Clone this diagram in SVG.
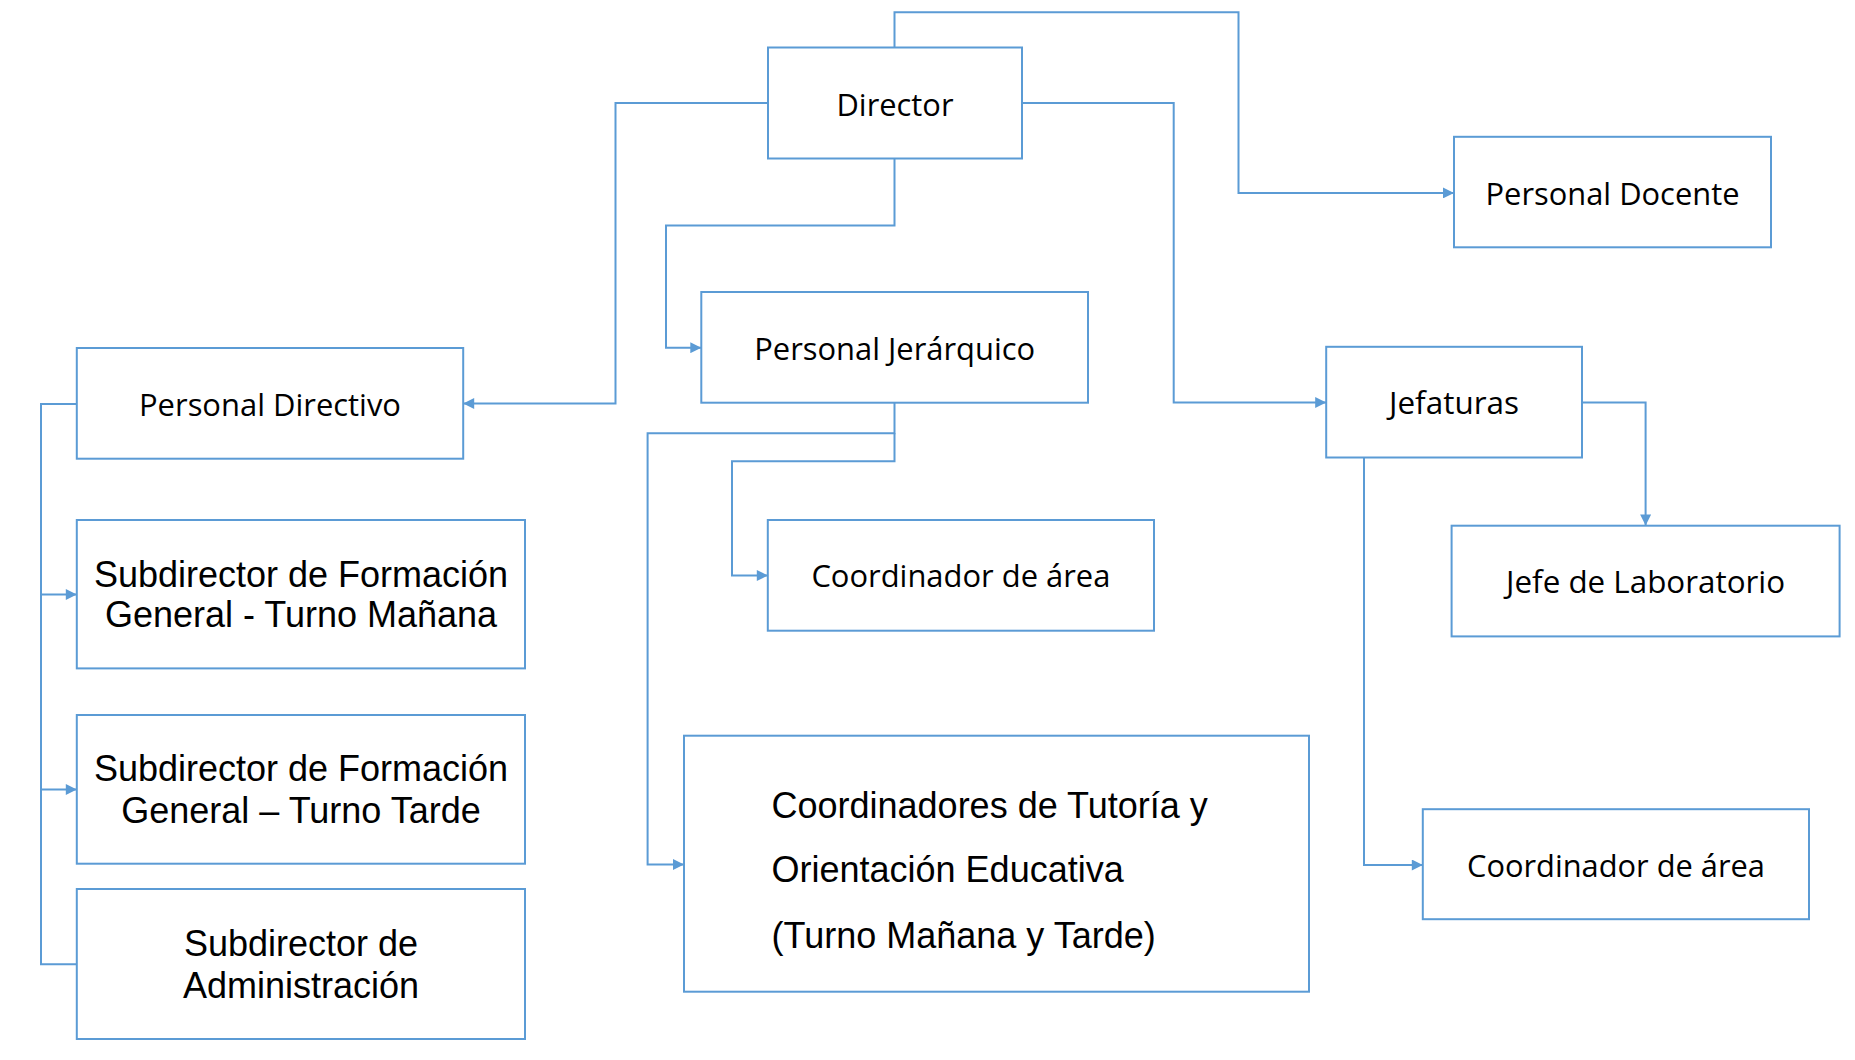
<svg xmlns="http://www.w3.org/2000/svg" width="1855" height="1060" viewBox="0 0 1855 1060">
<style>
.box{fill:#ffffff;stroke:#5b9bd5;stroke-width:2}
.c{fill:none;stroke:#5b9bd5;stroke-width:2}
.a{marker-end:url(#arr)}
.t1{font-family:"Open Sans","Noto Sans",sans-serif;font-size:31px;fill:#000;text-anchor:middle}
.t2{font-family:"Liberation Sans",Arial,sans-serif;font-size:36px;fill:#000;text-anchor:middle}
.t3{font-family:"Liberation Sans",Arial,sans-serif;font-size:36px;fill:#000}
</style>
<defs>
<marker id="arr" viewBox="0 0 10 10" refX="10" refY="5" markerWidth="12" markerHeight="11" markerUnits="userSpaceOnUse" orient="auto">
<path d="M0,0 L10,5 L0,10 z" fill="#5b9bd5"/>
</marker>
</defs>
<rect width="1855" height="1060" fill="#ffffff"/>
<g id="connectors">
<path class="c a" d="M894.5,47.5 V12.3 H1238.5 V192.9 H1454"/>
<path class="c a" d="M768,103 H615.5 V403.5 H463.2"/>
<path class="c a" d="M1022,103 H1173.7 V402.5 H1326.2"/>
<path class="c a" d="M894.5,158.5 V225.5 H666 V347.7 H701.3"/>
<path class="c a" d="M894.5,402.7 V433.3 H647.6 V864.5 H684"/>
<path class="c a" d="M894.5,433.3 V461.3 H732 V575.5 H767.8"/>
<path class="c a" d="M1582,402.5 H1645.6 V525.6"/>
<path class="c a" d="M1364,458 V865 H1422.8"/>
<path class="c" d="M76.8,404 H41 V964.3 H76.8"/>
<path class="c a" d="M41,594.5 H76.8"/>
<path class="c a" d="M41,789.5 H76.8"/>
</g>
<g id="director">
<rect class="box" x="768" y="47.5" width="254" height="111"/>
<text class="t1" x="895" y="116" textLength="117" lengthAdjust="spacingAndGlyphs">Director</text>
</g>
<g id="personal-docente">
<rect class="box" x="1454" y="136.8" width="317" height="110.5"/>
<text class="t1" x="1612.5" y="205.4" textLength="254" lengthAdjust="spacingAndGlyphs">Personal Docente</text>
</g>
<g id="personal-directivo">
<rect class="box" x="76.8" y="348" width="386.4" height="110.7"/>
<text class="t1" x="270" y="416" textLength="262" lengthAdjust="spacingAndGlyphs">Personal Directivo</text>
</g>
<g id="personal-jerarquico">
<rect class="box" x="701.3" y="292" width="386.7" height="110.7"/>
<text class="t1" x="894.7" y="359.5" textLength="281" lengthAdjust="spacingAndGlyphs">Personal Jerárquico</text>
</g>
<g id="jefaturas">
<rect class="box" x="1326.2" y="346.8" width="255.8" height="110.7"/>
<text class="t1" x="1454" y="414" textLength="130" lengthAdjust="spacingAndGlyphs">Jefaturas</text>
</g>
<g id="jefe-laboratorio">
<rect class="box" x="1451.6" y="525.7" width="388" height="110.7"/>
<text class="t1" x="1645.6" y="593" textLength="279" lengthAdjust="spacingAndGlyphs">Jefe de Laboratorio</text>
</g>
<g id="coordinador-area-1">
<rect class="box" x="767.8" y="520" width="386.2" height="110.7"/>
<text class="t1" x="960.9" y="587.3" textLength="299" lengthAdjust="spacingAndGlyphs">Coordinador de área</text>
</g>
<g id="coordinador-area-2">
<rect class="box" x="1422.8" y="809.2" width="386.2" height="110"/>
<text class="t1" x="1616" y="877" textLength="298" lengthAdjust="spacingAndGlyphs">Coordinador de área</text>
</g>
<g id="subdirector-manana">
<rect class="box" x="76.8" y="520" width="448.2" height="148.4"/>
<text class="t2" x="301" y="586.5">Subdirector de Formación</text>
<text class="t2" x="301" y="627">General - Turno Mañana</text>
</g>
<g id="subdirector-tarde">
<rect class="box" x="76.8" y="715" width="448.2" height="148.7"/>
<text class="t2" x="301" y="781">Subdirector de Formación</text>
<text class="t2" x="301" y="822.5">General – Turno Tarde</text>
</g>
<g id="subdirector-administracion">
<rect class="box" x="76.8" y="889" width="448.2" height="150"/>
<text class="t2" x="301" y="956">Subdirector de</text>
<text class="t2" x="301" y="997.5">Administración</text>
</g>
<g id="coordinadores-tutoria">
<rect class="box" x="684" y="735.7" width="625" height="256"/>
<text class="t3" x="771.5" y="818">Coordinadores de Tutoría y</text>
<text class="t3" x="771.5" y="882.3">Orientación Educativa</text>
<text class="t3" x="771.5" y="947.5">(Turno Mañana y Tarde)</text>
</g>
</svg>
